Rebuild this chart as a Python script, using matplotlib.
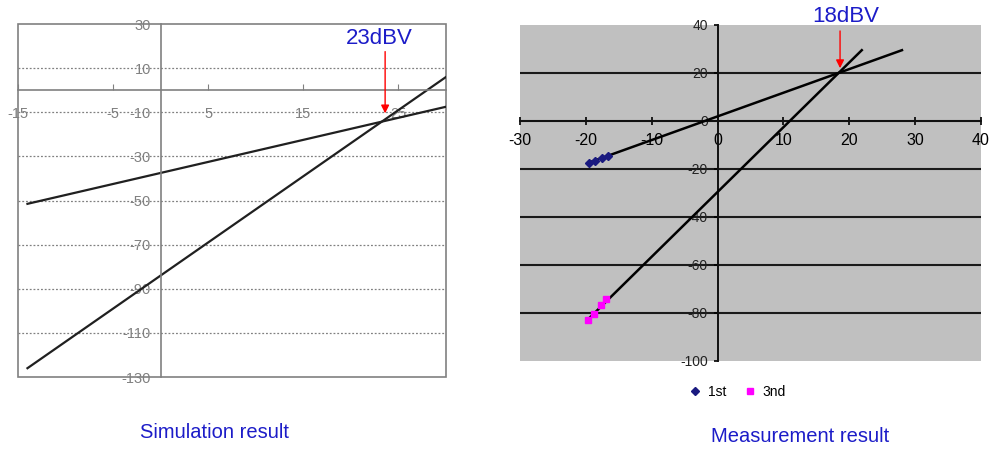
import numpy as np
import matplotlib
matplotlib.use("Agg")
import matplotlib.pyplot as plt
from matplotlib.patches import Rectangle

plt.rcParams['font.family'] = ['Liberation Sans', 'DejaVu Sans']
plt.rcParams['axes.unicode_minus'] = False

# ---- data ----
# simulation (left): fitted lines, endpoints
sim_1st_x = [-14, 30]
sim_1st_y = [-51.5, -7.5]
sim_3rd_x = [-14, 30]
sim_3rd_y = [-126, 6]
sim_ip3 = 23.3
sim_xticks = [-15, -5, 5, 15, 25]
sim_yticks = [-130, -110, -90, -70, -50, -30, -10, 10, 30]

# measurement (right): measured points + fitted lines
meas_1st_x = [-19.5, -18.6, -17.5, -16.7]
meas_1st_y = [-17.3, -16.5, -15.4, -14.6]
meas_3rd_x = [-19.6, -18.8, -17.7, -16.9]
meas_3rd_y = [-83.0, -80.5, -76.8, -74.0]
fit_1st_x = [-19.7, 28.0]
fit_1st_y = [-17.5, 29.5]
fit_3rd_x = [-19.8, 21.9]
fit_3rd_y = [-83.0, 29.5]
meas_ip3 = 18.6
meas_xticks = [-30, -20, -10, 0, 10, 20, 30, 40]
meas_yticks = [-100, -80, -60, -40, -20, 0, 20, 40]

blue = '#1c1cc8'

fig = plt.figure(figsize=(9.92, 4.5), dpi=100)

## left: simulation
ax1 = fig.add_axes([0.0181, 0.1622, 0.4315, 0.7844])
ax1.set_xlim(-15, 30)
ax1.set_ylim(-130, 30)
for s in ['top', 'right']:
    ax1.spines[s].set_visible(False)
ax1.spines['left'].set_position(('data', 0))
ax1.spines['bottom'].set_position(('data', 0))
for s in ['left', 'bottom']:
    ax1.spines[s].set_color('#808080')
    ax1.spines[s].set_linewidth(1.2)
ax1.add_patch(Rectangle((0, 0), 1, 1, transform=ax1.transAxes, fill=False,
                        ec='#808080', lw=1.2, clip_on=False))
ax1.set_xticks(sim_xticks)
ax1.set_yticks(sim_yticks)
ax1.tick_params(axis='x', direction='in', length=4, color='#808080',
                labelcolor='#808080', labelsize=10.5, pad=12)
ax1.tick_params(axis='y', length=0, labelcolor='#808080', labelsize=10.5, pad=7)
ax1.grid(axis='y', color='#808080', ls=(0, (1.5, 1.5)), lw=0.9)
gl = ax1.yaxis.get_gridlines()
gl[0].set_visible(False)
gl[-1].set_visible(False)

ax1.plot(sim_1st_x, sim_1st_y, color='#202020', lw=1.6)
ax1.plot(sim_3rd_x, sim_3rd_y, color='#202020', lw=1.6)
ax1.annotate('', xy=(sim_ip3 + 0.3, -10.5), xytext=(sim_ip3 + 0.3, 17.5),
             arrowprops=dict(arrowstyle='-|>', color='red', lw=1,
                             mutation_scale=12, shrinkA=0, shrinkB=0))
ax1.text(sim_ip3 - 0.3, 23.5, '23dBV', color=blue, fontsize=16,
         ha='center', va='center')

## right: measurement
ax2 = fig.add_axes([0.5242, 0.1978, 0.4647, 0.7467])
ax2.set_facecolor('#c0c0c0')
ax2.set_xlim(-30, 40)
ax2.set_ylim(-100, 40)
for s in ['top', 'right']:
    ax2.spines[s].set_visible(False)
ax2.spines['left'].set_position(('data', 0))
ax2.spines['bottom'].set_position(('data', 0))
for s in ['left', 'bottom']:
    ax2.spines[s].set_color('#111111')
    ax2.spines[s].set_linewidth(1.4)
ax2.set_xticks(meas_xticks)
ax2.set_yticks(meas_yticks)
ax2.tick_params(axis='x', direction='inout', length=6, width=1.2,
                labelsize=11.5, pad=6)
ax2.tick_params(axis='y', direction='out', length=3, width=1.2,
                labelsize=10, pad=4, labelcolor='#222222')
ax2.grid(axis='y', color='#1a1a1a', lw=1.5)
gl = ax2.yaxis.get_gridlines()
gl[0].set_visible(False)
gl[-1].set_visible(False)

ax2.plot(fit_1st_x, fit_1st_y, color='black', lw=1.8, zorder=3)
ax2.plot(fit_3rd_x, fit_3rd_y, color='black', lw=1.8, zorder=3)
ax2.plot(meas_1st_x, meas_1st_y, 'D', color='#1a1a80', ms=4,
         ls='none', label='1st', zorder=4)
ax2.plot(meas_3rd_x, meas_3rd_y, 's', color='#ff00ff', ms=4,
         ls='none', label='3nd', zorder=4)
ax2.annotate('', xy=(meas_ip3, 22), xytext=(meas_ip3, 37.5),
             arrowprops=dict(arrowstyle='-|>', color='red', lw=1,
                             mutation_scale=12, shrinkA=0, shrinkB=0))
ax2.text(meas_ip3 + 0.9, 43.5, '18dBV', color=blue, fontsize=16,
         ha='center', va='center', clip_on=False)
ax2.legend(loc='center', bbox_to_anchor=(0.47, -0.092), ncol=2,
           frameon=False, fontsize=10, handletextpad=0.4, columnspacing=1.2,
           handlelength=1)

fig.text(214 / 992, 1 - 432 / 450, 'Simulation result', color=blue,
         fontsize=14.5, ha='center', va='center')
fig.text(800 / 992, 1 - 437 / 450, 'Measurement result', color=blue,
         fontsize=14.5, ha='center', va='center')

fig.savefig('out.png', dpi=100)
